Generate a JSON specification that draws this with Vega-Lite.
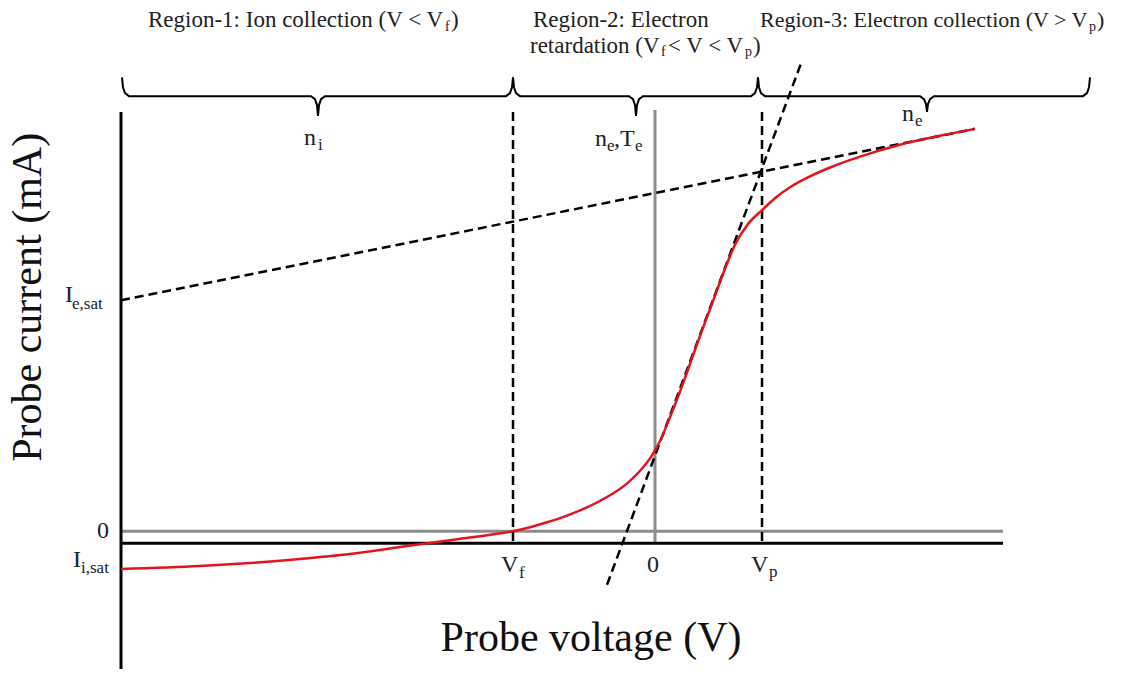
{
  "$schema": "https://vega.github.io/schema/vega-lite/v6.json",
  "width": 1127,
  "height": 675,
  "padding": 0,
  "autosize": {"type": "fit", "contains": "padding"},
  "background": "white",
  "config": {"view": {"stroke": null}},
  "datasets": {
    "axes": [
      {"id": "y", "o": 1, "v": -534, "i": 423}, {"id": "y", "o": 2, "v": -534, "i": -139},
      {"id": "x", "o": 1, "v": -534, "i": -12}, {"id": "x", "o": 2, "v": 348, "i": -12}
    ],
    "grey": [
      {"id": "zero", "o": 1, "v": -534, "i": 0}, {"id": "zero", "o": 2, "v": 348, "i": 0},
      {"id": "v0", "o": 1, "v": 0, "i": 425}, {"id": "v0", "o": 2, "v": 0, "i": -12}
    ],
    "dashed": [
      {"id": "vf", "o": 1, "v": -142, "i": 423}, {"id": "vf", "o": 2, "v": -142, "i": -12},
      {"id": "vp", "o": 1, "v": 107, "i": 423}, {"id": "vp", "o": 2, "v": 107, "i": -12},
      {"id": "sat", "o": 1, "v": -534, "i": 233}, {"id": "sat", "o": 2, "v": 320, "i": 406},
      {"id": "slope", "o": 1, "v": -48, "i": -54}, {"id": "slope", "o": 2, "v": 146, "i": 472}
    ],
    "braces": [
      {"id": "b1", "o": 1, "v": -533, "i": 458}, {"id": "b1", "o": 2, "v": -532, "i": 448}, {"id": "b1", "o": 3, "v": -530, "i": 442}, {"id": "b1", "o": 4, "v": -526, "i": 439},
      {"id": "b1", "o": 5, "v": -344, "i": 439}, {"id": "b1", "o": 6, "v": -340, "i": 436}, {"id": "b1", "o": 7, "v": -338, "i": 430}, {"id": "b1", "o": 8, "v": -337, "i": 419},
      {"id": "b1", "o": 9, "v": -336, "i": 430}, {"id": "b1", "o": 10, "v": -334, "i": 436}, {"id": "b1", "o": 11, "v": -330, "i": 439}, {"id": "b1", "o": 12, "v": -149, "i": 439},
      {"id": "b1", "o": 13, "v": -145, "i": 442}, {"id": "b1", "o": 14, "v": -143, "i": 448}, {"id": "b1", "o": 15, "v": -142, "i": 458},
      {"id": "b2", "o": 1, "v": -142, "i": 458}, {"id": "b2", "o": 2, "v": -141, "i": 448}, {"id": "b2", "o": 3, "v": -139, "i": 442}, {"id": "b2", "o": 4, "v": -135, "i": 439},
      {"id": "b2", "o": 5, "v": -26, "i": 439}, {"id": "b2", "o": 6, "v": -22, "i": 436}, {"id": "b2", "o": 7, "v": -20, "i": 430}, {"id": "b2", "o": 8, "v": -19, "i": 419},
      {"id": "b2", "o": 9, "v": -18, "i": 430}, {"id": "b2", "o": 10, "v": -16, "i": 436}, {"id": "b2", "o": 11, "v": -12, "i": 439}, {"id": "b2", "o": 12, "v": 96, "i": 439},
      {"id": "b2", "o": 13, "v": 100, "i": 442}, {"id": "b2", "o": 14, "v": 102, "i": 448}, {"id": "b2", "o": 15, "v": 103, "i": 458},
      {"id": "b3", "o": 1, "v": 103, "i": 458}, {"id": "b3", "o": 2, "v": 104, "i": 448}, {"id": "b3", "o": 3, "v": 106, "i": 442}, {"id": "b3", "o": 4, "v": 110, "i": 439},
      {"id": "b3", "o": 5, "v": 265, "i": 439}, {"id": "b3", "o": 6, "v": 269, "i": 436}, {"id": "b3", "o": 7, "v": 271, "i": 431}, {"id": "b3", "o": 8, "v": 272, "i": 423},
      {"id": "b3", "o": 9, "v": 273, "i": 431}, {"id": "b3", "o": 10, "v": 275, "i": 436}, {"id": "b3", "o": 11, "v": 279, "i": 439}, {"id": "b3", "o": 12, "v": 428, "i": 439},
      {"id": "b3", "o": 13, "v": 432, "i": 442}, {"id": "b3", "o": 14, "v": 434, "i": 448}, {"id": "b3", "o": 15, "v": 435, "i": 458}
    ],
    "curve": [
      {"v": -534, "i": -38}, {"v": -455, "i": -35}, {"v": -405, "i": -32}, {"v": -355, "i": -28},
      {"v": -305, "i": -23}, {"v": -255, "i": -16}, {"v": -205, "i": -9}, {"v": -175, "i": -5},
      {"v": -142, "i": 0}, {"v": -125, "i": 4}, {"v": -108, "i": 9}, {"v": -90, "i": 15},
      {"v": -75, "i": 21}, {"v": -58, "i": 29}, {"v": -42, "i": 38}, {"v": -27, "i": 49},
      {"v": -14, "i": 62}, {"v": -4, "i": 75}, {"v": 5, "i": 91}, {"v": 15, "i": 115},
      {"v": 25, "i": 141}, {"v": 45, "i": 197}, {"v": 62, "i": 243}, {"v": 72, "i": 270},
      {"v": 80, "i": 289}, {"v": 93, "i": 310}, {"v": 107, "i": 324}, {"v": 120, "i": 336},
      {"v": 135, "i": 347}, {"v": 155, "i": 358}, {"v": 175, "i": 367}, {"v": 205, "i": 378},
      {"v": 245, "i": 390}, {"v": 285, "i": 399}, {"v": 320, "i": 406}
    ],
    "regionBig": [
      {"t": "Region-1: Ion collection (V < V", "v": -507, "i": 509},
      {"t": ")", "v": -204, "i": 509},
      {"t": "Region-2: Electron", "v": -122, "i": 509},
      {"t": "retardation (V", "v": -125, "i": 483},
      {"t": "< V < V", "v": 13, "i": 483},
      {"t": ")", "v": 98, "i": 483}
    ],
    "regionSmall": [
      {"t": "Region-3: Electron collection (V > V", "v": 105, "i": 509},
      {"t": ")", "v": 442, "i": 509}
    ],
    "regionSub": [
      {"t": "f", "v": -210, "i": 505},
      {"t": "f", "v": 6, "i": 479},
      {"t": "p", "v": 90, "i": 479},
      {"t": "p", "v": 434, "i": 505}
    ],
    "labels": [
      {"t": "n", "v": -351, "i": 390},
      {"t": "n", "v": -60, "i": 389},
      {"t": ",T", "v": -41, "i": 389},
      {"t": "n", "v": 247, "i": 414},
      {"t": "I", "v": -590, "i": 231},
      {"t": "0", "v": -558, "i": -7},
      {"t": "I", "v": -582, "i": -36},
      {"t": "V", "v": -154, "i": -41},
      {"t": "0", "v": -8, "i": -41},
      {"t": "V", "v": 96, "i": -41}
    ],
    "labelSubs": [
      {"t": "i", "v": -337, "i": 385},
      {"t": "e", "v": -48, "i": 384},
      {"t": "e", "v": -20, "i": 384},
      {"t": "e", "v": 260, "i": 409},
      {"t": "e,sat", "v": -583, "i": 224},
      {"t": "i,sat", "v": -574, "i": -42},
      {"t": "f", "v": -136, "i": -47},
      {"t": "p", "v": 114, "i": -46}
    ],
    "xTitle": [{"t": "Probe voltage (V)", "v": -64, "i": -121}],
    "yTitle": [{"t": "Probe current (mA)", "v": -614, "i": 236}]
  },
  "encoding": {
    "x": {"field": "v", "type": "quantitative", "scale": {"domain": [-655, 472], "nice": false, "zero": false}, "axis": null},
    "y": {"field": "i", "type": "quantitative", "scale": {"domain": [-139, 536], "nice": false, "zero": false}, "axis": null}
  },
  "layer": [
    {
      "data": {"name": "grey"},
      "mark": {"type": "line", "color": "#8c8c8c", "strokeWidth": 3},
      "encoding": {"detail": {"field": "id"}, "order": {"field": "o"}}
    },
    {
      "data": {"name": "axes"},
      "mark": {"type": "line", "color": "#000000", "strokeWidth": 3},
      "encoding": {"detail": {"field": "id"}, "order": {"field": "o"}}
    },
    {
      "data": {"name": "dashed"},
      "mark": {"type": "line", "color": "#000000", "strokeWidth": 2.5, "strokeDash": [9, 5]},
      "encoding": {"detail": {"field": "id"}, "order": {"field": "o"}}
    },
    {
      "data": {"name": "braces"},
      "mark": {"type": "line", "color": "#000000", "strokeWidth": 2},
      "encoding": {"detail": {"field": "id"}, "order": {"field": "o"}}
    },
    {
      "data": {"name": "curve"},
      "mark": {"type": "line", "color": "#e3141b", "strokeWidth": 2.5, "interpolate": "monotone"},
      "encoding": {}
    },
    {
      "data": {"name": "regionBig"},
      "mark": {"type": "text", "font": "Liberation Serif", "fontSize": 23, "align": "left", "baseline": "alphabetic", "color": "#222222"},
      "encoding": {"text": {"field": "t"}}
    },
    {
      "data": {"name": "regionSmall"},
      "mark": {"type": "text", "font": "Liberation Serif", "fontSize": 22, "align": "left", "baseline": "alphabetic", "color": "#222222"},
      "encoding": {"text": {"field": "t"}}
    },
    {
      "data": {"name": "regionSub"},
      "mark": {"type": "text", "font": "Liberation Serif", "fontSize": 14, "align": "left", "baseline": "alphabetic", "color": "#222222"},
      "encoding": {"text": {"field": "t"}}
    },
    {
      "data": {"name": "labels"},
      "mark": {"type": "text", "font": "Liberation Serif", "fontSize": 24, "align": "left", "baseline": "alphabetic", "color": "#222222"},
      "encoding": {"text": {"field": "t"}}
    },
    {
      "data": {"name": "labelSubs"},
      "mark": {"type": "text", "font": "Liberation Serif", "fontSize": 17, "align": "left", "baseline": "alphabetic", "color": "#222222"},
      "encoding": {"text": {"field": "t"}}
    },
    {
      "data": {"name": "xTitle"},
      "mark": {"type": "text", "font": "Liberation Serif", "fontSize": 42, "align": "center", "baseline": "alphabetic", "color": "#111111"},
      "encoding": {"text": {"field": "t"}}
    },
    {
      "data": {"name": "yTitle"},
      "mark": {"type": "text", "font": "Liberation Serif", "fontSize": 42, "align": "center", "baseline": "alphabetic", "angle": 270, "color": "#111111"},
      "encoding": {"text": {"field": "t"}}
    }
  ]
}
